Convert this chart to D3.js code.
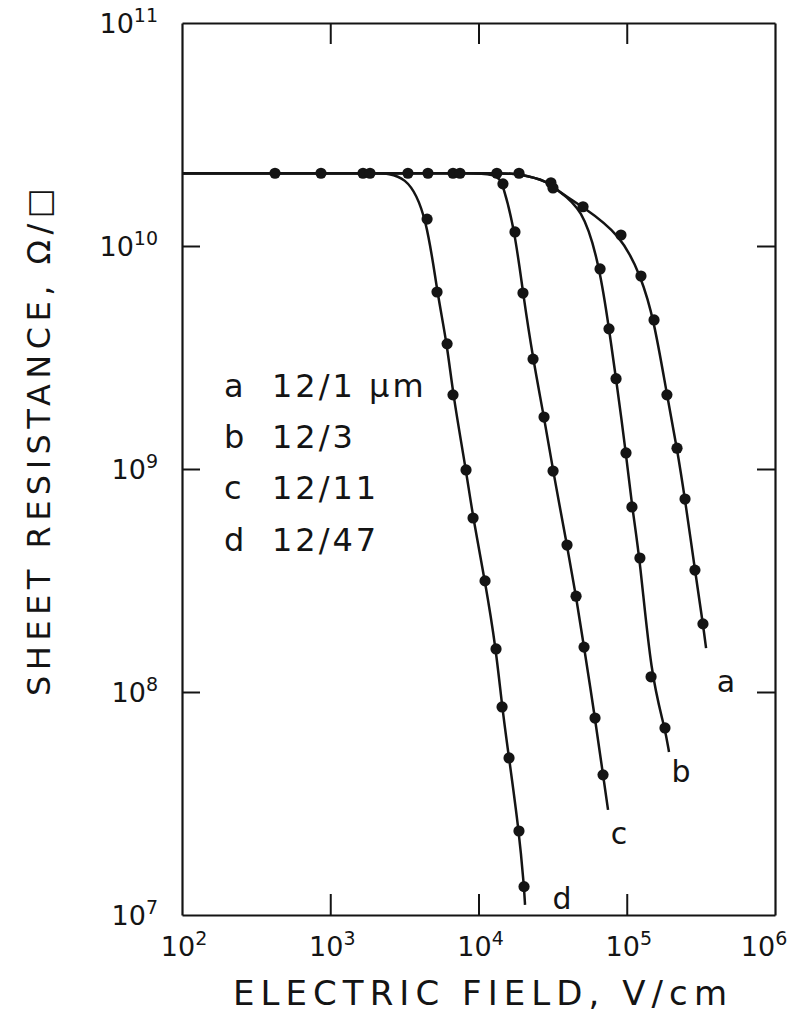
<!DOCTYPE html>
<html>
<head>
<meta charset="utf-8">
<script src="https://cdn.jsdelivr.net/npm/d3@7"></script>
<style>
  body { margin: 0; background: #fff; }
  svg { display: block; font-family: 'DejaVu Sans', sans-serif; }
</style>
</head>
<body>
<svg id="chart" width="795" height="1019"></svg>
<script>
/* global d3 */

// Plateau shared by all four samples (V/cm, ohm per square)
const plateauResistance = 2.12e10;
const sharedField = [424, 866, 1663, 1854, 3342, 4560, 6730, 7500, 13300, 18760];

// Knee shared by curves a and b
const arcField = [30800, 31800, 50700];
const arcResistance = [1.92e10, 1.82e10, 1.50e10];

// Curve a : 12/1 um
const fieldA = [91400, 124700, 152800, 186600, 218300, 247200, 288400, 326600];
const resistanceA = [1.12e10, 7.33e9, 4.66e9, 2.15e9, 1.24e9, 7.33e8, 3.52e8, 2.02e8];

// Curve b : 12/3
const fieldB = [66070, 75900, 84700, 98850, 108400, 122700, 145900, 181100];
const resistanceB = [7.89e9, 4.25e9, 2.54e9, 1.18e9, 6.76e8, 3.99e8, 1.17e8, 6.90e7];

// Curve c : 12/11
const fieldC = [14620, 17620, 19950, 23330, 27670, 31840, 39540, 45500, 51520, 61090, 69180];
const resistanceC = [1.90e10, 1.156e10, 6.15e9, 3.11e9, 1.71e9, 9.79e8, 4.56e8, 2.69e8, 1.59e8, 7.64e7, 4.25e7];

// Curve d : 12/47
const fieldD = [4500, 5250, 6140, 6730, 8240, 9190, 11070, 13130, 14420, 16070, 18750, 20280];
const resistanceD = [1.32e10, 6.22e9, 3.64e9, 2.15e9, 9.9e8, 6.03e8, 3.15e8, 1.56e8, 8.57e7, 5.06e7, 2.38e7, 1.34e7];

// Where each drawn curve stops
const curveEndField = [342800, 192800, 74800, 20600];
const curveEndResistance = [1.574e8, 5.38e7, 2.96e7, 1.11e7];

// Last plateau point before each curve bends away
const branchField = [18760, 18760, 13300, 3342];
const followsArc = [true, true, false, false];

const seriesKeys = ['a', 'b', 'c', 'd'];
const legendLabels = ['12/1 \u03bcm', '12/3', '12/11', '12/47'];

const xTickValues = [1e3, 1e4, 1e5];
const yTickValues = [1e8, 1e9, 1e10];
const xLabelPowers = [2, 3, 4, 5, 6];
const yLabelPowers = [7, 8, 9, 10, 11];

const fieldSets = [fieldA, fieldB, fieldC, fieldD];
const resistanceSets = [resistanceA, resistanceB, resistanceC, resistanceD];

const ink = '#141414';
const frame = { left: 182, right: 775, top: 23, bottom: 915 };

const svg = d3.select('#chart');

const x = d3.scaleLog()
  .domain([1e2, 1e6])
  .range([frame.left, frame.right]);

const y = d3.scaleLog()
  .domain([1e7, 1e11])
  .range([frame.bottom, frame.top]);

// Axes: ticks point into the plot on all four sides
const styleAxis = (g) => {
  g.selectAll('.domain').attr('stroke', ink).attr('stroke-width', 2.2);
  g.selectAll('.tick line').attr('stroke', ink).attr('stroke-width', 2);
  g.selectAll('.tick text').remove();
};

svg.append('g')
  .attr('transform', `translate(0, ${frame.bottom})`)
  .call(d3.axisBottom(x).tickValues(xTickValues).tickSizeInner(-21).tickSizeOuter(0))
  .call(styleAxis);

svg.append('g')
  .attr('transform', `translate(0, ${frame.top})`)
  .call(d3.axisTop(x).tickValues(xTickValues).tickSizeInner(-21).tickSizeOuter(0))
  .call(styleAxis);

svg.append('g')
  .attr('transform', `translate(${frame.left}, 0)`)
  .call(d3.axisLeft(y).tickValues(yTickValues).tickSizeInner(-18).tickSizeOuter(0))
  .call(styleAxis);

svg.append('g')
  .attr('transform', `translate(${frame.right}, 0)`)
  .call(d3.axisRight(y).tickValues(yTickValues).tickSizeInner(-18).tickSizeOuter(0))
  .call(styleAxis);

// Tick labels as 10 with a raised exponent
const xLabels = svg.append('g')
  .attr('fill', ink)
  .selectAll('text')
  .data(xLabelPowers)
  .enter()
  .append('text')
  // the last label is pulled in so it stays on the page
  .attr('x', (d) => { return Math.min(x(Math.pow(10, d)) + 2, 764); })
  .attr('y', 956)
  .attr('text-anchor', 'middle')
  .style('font-size', '27px');

xLabels.append('tspan').text('10');
xLabels.append('tspan')
  .attr('dy', -11)
  .style('font-size', '19px')
  .text((d) => { return d; });

const yLabels = svg.append('g')
  .attr('fill', ink)
  .selectAll('text')
  .data(yLabelPowers)
  .enter()
  .append('text')
  .attr('x', 158)
  .attr('y', (d) => { return y(Math.pow(10, d)) + 10; })
  .attr('text-anchor', 'end')
  .style('font-size', '27px');

yLabels.append('tspan').text('10');
yLabels.append('tspan')
  .attr('dy', -11)
  .style('font-size', '19px')
  .text((d) => { return d; });

// Axis titles
svg.append('text')
  .attr('x', 480)
  .attr('y', 1005)
  .attr('text-anchor', 'middle')
  .attr('textLength', 494)
  .attr('lengthAdjust', 'spacing')
  .attr('fill', ink)
  .style('font-size', '34px')
  .text('ELECTRIC FIELD, V/cm');

svg.append('text')
  .attr('transform', 'translate(50, 442) rotate(-90)')
  .attr('text-anchor', 'middle')
  .attr('textLength', 508)
  .attr('lengthAdjust', 'spacing')
  .attr('fill', ink)
  .style('font-size', '32px')
  .text('SHEET RESISTANCE, \u03a9/\u25a1');

// Curves: a smooth fit through the measured points
const line = d3.line()
  .x((d) => { return x(d[0]); })
  .y((d) => { return y(d[1]); })
  .curve(d3.curveBasis);

const plateauPoints = sharedField.map((f) => { return [f, plateauResistance]; });
const arcPoints = arcField.map((f, i) => { return [f, arcResistance[i]]; });

const curves = seriesKeys.map((key, i) => {
  const own = fieldSets[i].map((f, j) => { return [f, resistanceSets[i][j]]; });
  const points = [[x.domain()[0], plateauResistance]]
    .concat(plateauPoints.filter((p) => { return p[0] <= branchField[i]; }))
    .concat(followsArc[i] ? arcPoints : [])
    .concat(own)
    .concat([[curveEndField[i], curveEndResistance[i]]]);
  return { key, own, points };
});

svg.append('g')
  .selectAll('path')
  .data(curves)
  .enter()
  .append('path')
  .attr('fill', 'none')
  .attr('stroke', ink)
  .attr('stroke-width', 2.5)
  .attr('d', (d) => { return line(d.points); });

// Measured points
const allDots = plateauPoints
  .concat(arcPoints)
  .concat(...curves.map((c) => { return c.own; }));

svg.append('g')
  .selectAll('circle')
  .data(allDots)
  .enter()
  .append('circle')
  .attr('cx', (d) => { return x(d[0]); })
  .attr('cy', (d) => { return y(d[1]); })
  .attr('r', 5.6)
  .attr('fill', ink);

// Curve letters next to the curve ends
const labelOffset = [[20, 44], [12, 30], [11, 34], [37, 4]];

svg.append('g')
  .selectAll('text')
  .data(curves)
  .enter()
  .append('text')
  .attr('x', (d, i) => { return x(curveEndField[i]) + labelOffset[i][0]; })
  .attr('y', (d, i) => { return y(curveEndResistance[i]) + labelOffset[i][1]; })
  .attr('text-anchor', 'middle')
  .attr('fill', ink)
  .style('font-size', '30px')
  .text((d) => { return d.key; });

// Legend
const legendRows = [397, 448, 499, 551];

const legend = svg.append('g')
  .attr('fill', ink)
  .style('font-size', '32px');

legend.selectAll('text.key')
  .data(seriesKeys)
  .enter()
  .append('text')
  .classed('key', true)
  .attr('x', 224)
  .attr('y', (d, i) => { return legendRows[i]; })
  .text((d) => { return d; });

legend.selectAll('text.size')
  .data(legendLabels)
  .enter()
  .append('text')
  .classed('size', true)
  .attr('x', 272)
  .attr('y', (d, i) => { return legendRows[i]; })
  .style('letter-spacing', '3px')
  .text((d) => { return d; });
</script>
</body>
</html>
